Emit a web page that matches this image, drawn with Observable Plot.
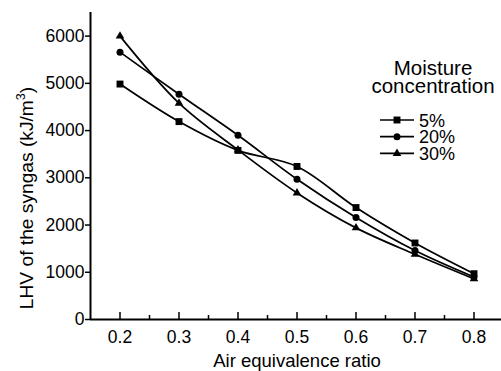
<!DOCTYPE html>
<html>
<head>
<meta charset="utf-8">
<script src="https://cdn.jsdelivr.net/npm/d3@7"></script>
<script src="https://cdn.jsdelivr.net/npm/@observablehq/plot@0.6"></script>
<style>
  html, body { margin: 0; padding: 0; background: #fff; }
  svg { overflow: visible; }
</style>
</head>
<body>
<div id="chart"></div>
<script>
// ---- Data ----
const airRatio = [0.2, 0.3, 0.4, 0.5, 0.6, 0.7, 0.8];
const moisture5 = [4985, 4190, 3580, 3240, 2370, 1620, 970];
const moisture20 = [5660, 4770, 3900, 2970, 2160, 1460, 900];
const moisture30 = [6000, 4580, 3590, 2680, 1940, 1380, 860];
const seriesNames = ["5%", "20%", "30%"];
const seriesSymbols = ["square", "circle", "triangle"];
const xTicks = [0.2, 0.3, 0.4, 0.5, 0.6, 0.7, 0.8];
const xMinorTicks = [0.25, 0.35, 0.45, 0.55, 0.65, 0.75];
const yTicks = [0, 1000, 2000, 3000, 4000, 5000, 6000];
const xDomain = [0.15, 0.85];
const yDomain = [0, 6500];
const xTitle = "Air equivalence ratio";
const yTitle = "LHV of the syngas (kJ/m";
const legendTitle = ["Moisture", "concentration"];

const seriesValues = [moisture5, moisture20, moisture30];
const rows = seriesValues.flatMap((vals, i) =>
  vals.map((v, j) => ({ x: airRatio[j], y: v, series: seriesNames[i] })));

const symbolR = { square: 3.9, circle: 3.5, triangle: 3.2 };
const FONT = "'Liberation Sans', Arial, Helvetica, sans-serif";

const marks = [];
// axis lines
marks.push(Plot.ruleY([yDomain[0]], { stroke: "black", strokeWidth: 2 }));
marks.push(Plot.ruleX([xDomain[0]], { stroke: "black", strokeWidth: 2 }));
// x ticks (inward)
marks.push(Plot.axisX({ ticks: xTicks, tickSize: 7, text: null, label: null, dy: -7, strokeWidth: 1.5 }));
marks.push(Plot.axisX({ ticks: xMinorTicks, tickSize: 4, text: null, label: null, dy: -4, strokeWidth: 1.5 }));
marks.push(Plot.axisX({ ticks: xTicks, tickSize: 0, tickPadding: 11, label: null, fontSize: 17.5, tickFormat: d => d.toFixed(1) }));
// y ticks (outward)
marks.push(Plot.axisY({ ticks: yTicks, tickSize: 5, tickPadding: 1, label: null, fontSize: 17.5, strokeWidth: 1.5, tickFormat: d => String(d) }));

seriesNames.forEach((name, i) => {
  const data = rows.filter(d => d.series === name);
  marks.push(Plot.line(data, { x: "x", y: "y", curve: "catmull-rom", stroke: "black", strokeWidth: 1.7 }));
  marks.push(Plot.dot(data, { x: "x", y: "y", symbol: seriesSymbols[i], r: symbolR[seriesSymbols[i]], fill: "black", stroke: "none" }));
});

const svg = Plot.plot({
  width: 501,
  height: 371,
  marginLeft: 90,
  marginRight: 0,
  marginTop: 12,
  marginBottom: 52,
  style: { fontFamily: FONT, color: "black", background: "white", overflow: "visible" },
  x: { domain: xDomain, range: [90, 503] },
  y: { domain: yDomain },
  marks
});
document.getElementById("chart").appendChild(svg);

// ---- titles and legend ----
const s = d3.select(svg);
const g = s.append("g").attr("font-family", FONT).attr("fill", "black").attr("text-anchor", "start");

g.append("text")
  .attr("x", 297).attr("y", 367)
  .attr("text-anchor", "middle").attr("font-size", 18.5)
  .text(xTitle);

const yt = g.append("text")
  .attr("transform", "translate(33,198) rotate(-90)")
  .attr("text-anchor", "middle").attr("font-size", 19.2);
yt.append("tspan").text(yTitle);
yt.append("tspan").attr("font-size", 12.5).attr("dy", -8).text("3");
yt.append("tspan").attr("dy", 8).text(")");

legendTitle.forEach((t, i) => {
  g.append("text")
    .attr("x", 433).attr("y", 75 + i * 18)
    .attr("text-anchor", "middle").attr("font-size", 20.5)
    .text(t);
});

const symMap = { square: d3.symbolSquare, circle: d3.symbolCircle, triangle: d3.symbolTriangle };
seriesNames.forEach((name, i) => {
  const cy = 120 + i * 16.7;
  g.append("line").attr("x1", 380).attr("x2", 414).attr("y1", cy).attr("y2", cy)
    .attr("stroke", "black").attr("stroke-width", 1.7);
  const sym = seriesSymbols[i];
  g.append("path")
    .attr("transform", `translate(397,${cy})`)
    .attr("d", d3.symbol().type(symMap[sym]).size(Math.PI * symbolR[sym] ** 2)())
    .attr("fill", "black");
  g.append("text").attr("x", 419).attr("y", cy + 6.5)
    .attr("text-anchor", "start")
    .attr("font-size", 18).text(name);
});
</script>
</body>
</html>
